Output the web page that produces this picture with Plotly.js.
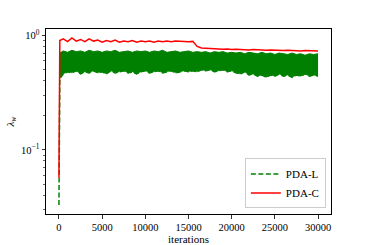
<!DOCTYPE html>
<html>
<head>
<meta charset="utf-8">
<script src="https://cdn.plot.ly/plotly-3.0.1.min.js"></script>
<style>html,body{margin:0;padding:0;background:#fff}#chart{width:368px;height:245px}</style>
</head>
<body>
<div id="chart"></div>
<script>
const iterations = [0,100,500,1000,1500,2000,2500,3000,3500,4000,4500,5000,5500,6000,6500,7000,7500,8000,8500,9000,9500,10000,10500,11000,11500,12000,12500,13000,13500,14000,14500,15000,15500,16000,16500,17000,17500,18000,18500,19000,19500,20000,20500,21000,21500,22000,22500,23000,23500,24000,24500,25000,25500,26000,26500,27000,27500,28000,28500,29000,29500,30000];

const pdaC = [0.057,0.90,0.93,0.88,0.95,0.89,0.92,0.88,0.93,0.89,0.91,0.87,0.90,0.88,0.91,0.87,0.89,0.88,0.90,0.87,0.89,0.88,0.89,0.87,0.89,0.88,0.89,0.88,0.89,0.885,0.89,0.88,0.885,0.80,0.775,0.77,0.765,0.76,0.765,0.755,0.76,0.75,0.755,0.75,0.755,0.745,0.75,0.745,0.75,0.74,0.745,0.74,0.745,0.735,0.74,0.735,0.74,0.73,0.735,0.73,0.735,0.73];

const pdaLHigh = [0.033,0.70,0.73,0.71,0.74,0.72,0.73,0.71,0.74,0.72,0.73,0.71,0.73,0.72,0.74,0.71,0.72,0.73,0.71,0.73,0.72,0.73,0.71,0.73,0.72,0.74,0.71,0.72,0.73,0.71,0.72,0.73,0.71,0.72,0.71,0.72,0.70,0.72,0.71,0.72,0.70,0.71,0.70,0.71,0.69,0.71,0.70,0.69,0.71,0.69,0.70,0.68,0.70,0.69,0.68,0.70,0.68,0.69,0.67,0.69,0.68,0.69];

const pdaLLow = [0.033,0.42,0.46,0.48,0.47,0.49,0.46,0.48,0.47,0.49,0.47,0.48,0.46,0.49,0.47,0.48,0.49,0.47,0.48,0.46,0.48,0.49,0.47,0.48,0.49,0.47,0.48,0.49,0.47,0.48,0.49,0.48,0.49,0.48,0.50,0.49,0.50,0.48,0.49,0.50,0.48,0.49,0.47,0.46,0.48,0.45,0.46,0.44,0.45,0.43,0.45,0.44,0.46,0.44,0.45,0.43,0.45,0.44,0.46,0.44,0.45,0.44];

const xTicks = [0,5000,10000,15000,20000,25000,30000];
const yTickVals = [0.1, 1];
const yTickText = ['10<sup>\u22121</sup>', '10<sup>0</sup>'];
const yMinor = [0.03,0.04,0.05,0.06,0.07,0.08,0.09,0.2,0.3,0.4,0.5,0.6,0.7,0.8,0.9];

const green = '#008000', red = '#ff0000';
const font = 'Liberation Serif, Times New Roman, serif';

const traces = [
  {x: iterations.slice(1), y: pdaLLow.slice(1), mode: 'lines', line: {width: 0.5, color: green}, showlegend: false, hoverinfo: 'skip'},
  {x: iterations.slice(1), y: pdaLHigh.slice(1), mode: 'lines', fill: 'tonexty', fillcolor: green, line: {width: 1, color: green}, showlegend: false, hoverinfo: 'skip'},
  {x: iterations, y: pdaLLow, mode: 'lines', name: 'PDA-L', line: {width: 1.5, color: green, dash: '5px,2.5px'}},
  {x: iterations, y: pdaC, mode: 'lines', name: 'PDA-C', line: {width: 1.5, color: red}}
];

const layout = {
  width: 368, height: 245,
  margin: {l: 46, r: 37, t: 29, b: 31},
  paper_bgcolor: '#fff', plot_bgcolor: '#fff',
  font: {family: font, size: 10.5, color: '#000'},
  showlegend: true,
  legend: {
    x: 0.982, y: 0.03, xanchor: 'right', yanchor: 'bottom',
    traceorder: 'normal',
    bgcolor: 'rgba(255,255,255,0.8)', bordercolor: '#cccccc', borderwidth: 1,
    font: {family: font, size: 11, color: '#000'},
    tracegroupgap: 0
  },
  xaxis: {
    range: [-1500, 31500],
    tickmode: 'array', tickvals: xTicks, ticktext: xTicks.map(String),
    ticks: 'outside', ticklen: 3.5, tickwidth: 0.8, tickcolor: '#000',
    showline: true, linecolor: '#000', linewidth: 1, mirror: true,
    showgrid: false, zeroline: false,
    title: {text: 'iterations', font: {family: font, size: 11}, standoff: 4}
  },
  yaxis: {
    type: 'log',
    range: [-1.56, 0.055],
    tickmode: 'array', tickvals: yTickVals, ticktext: yTickText,
    ticks: 'outside', ticklen: 3.5, tickwidth: 0.8, tickcolor: '#000',
    minor: {tickmode: 'array', tickvals: yMinor, ticks: 'outside', ticklen: 2, tickwidth: 0.6, tickcolor: '#000', showgrid: false},
    showline: true, linecolor: '#000', linewidth: 1, mirror: true,
    showgrid: false, zeroline: false,
    title: {text: '<i>λ</i><sub><i>w</i></sub>', font: {family: font, size: 11}, standoff: 4}
  }
};

Plotly.newPlot('chart', traces, layout, {staticPlot: true, displayModeBar: false});
</script>
</body>
</html>
